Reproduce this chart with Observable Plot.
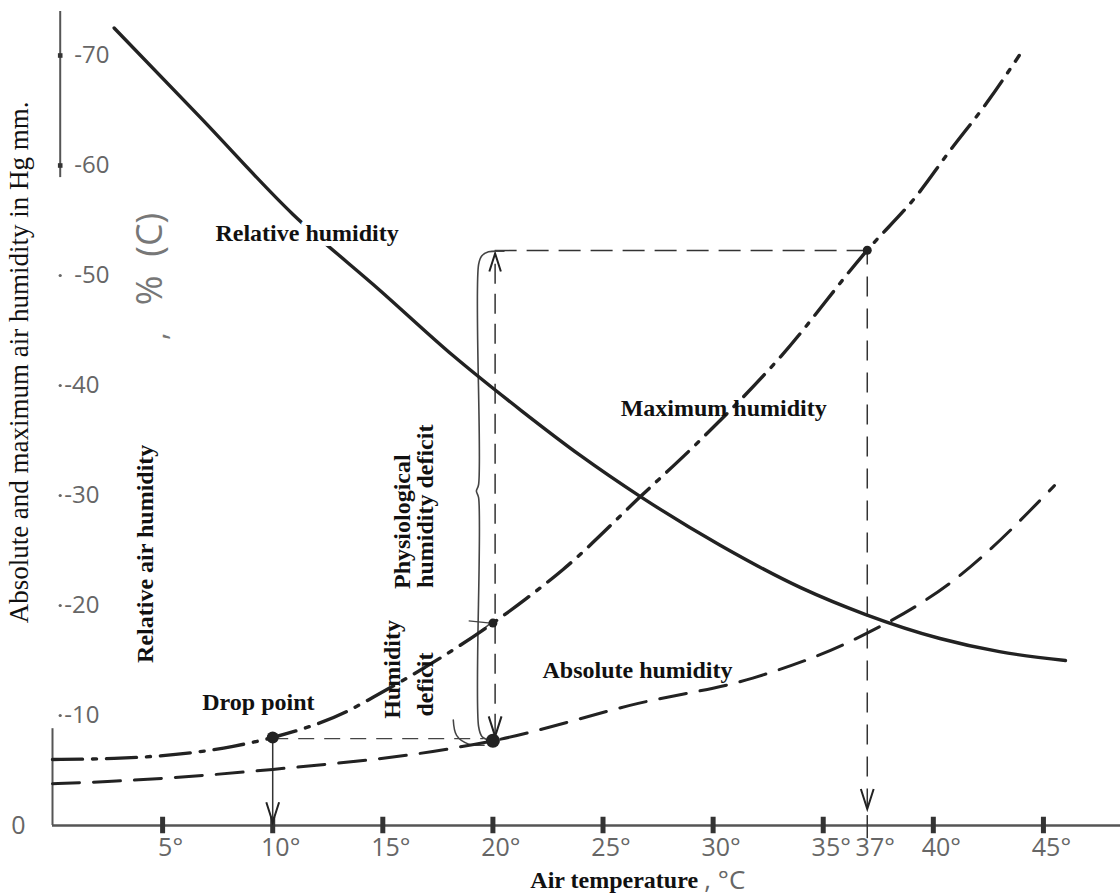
<!DOCTYPE html>
<html><head><meta charset="utf-8">
<script src="https://cdn.jsdelivr.net/npm/d3@7"></script>
<script src="https://cdn.jsdelivr.net/npm/@observablehq/plot@0.6"></script>
<style>html,body{margin:0;padding:0;background:#fff;} svg{display:block;}</style>
</head><body><div id="chart"></div>
<script>
// Relative humidity (solid curve)
const rhTemp  = [2.8, 6.7, 10.9, 14.9, 18.2, 21.3, 24.0, 26.7, 30.3, 34.0, 36.9, 40.3, 43.0, 46.0];
const rhValue = [72.5, 64.4, 55.6, 48.6, 42.7, 37.7, 33.6, 29.9, 25.5, 21.6, 19.2, 17.0, 15.8, 15.0];
// Maximum humidity (dash-dot curve)
const maxTemp  = [0, 2.8, 8.2, 10, 13.4, 14.6, 20, 21.5, 23.2, 26.7, 29.4, 33.1, 37, 39.3, 40.7, 42.5, 43.9];
const maxValue = [6.0, 6.1, 7.2, 8.0, 10.4, 11.7, 18.4, 20.6, 23.3, 29.9, 35.0, 42.7, 52.3, 57.4, 61.2, 65.9, 70.0];
// Absolute humidity (dashed curve)
const absTemp  = [0, 2.5, 10, 18.1, 20, 26.6, 31.8, 36.4, 41.0, 45.5];
const absValue = [3.8, 4.0, 5.1, 7.0, 7.7, 11.1, 13.4, 16.9, 22.4, 30.9];
// Marked points
const pointTemp  = [10, 20, 20, 37];
const pointValue = [8.0, 7.7, 18.4, 52.3];
const pointSize  = [6, 7, 4.5, 4.5];
// Ticks
const xTicks = [5, 10, 15, 20, 25, 30, 35, 37, 40, 45];
const xTickLabels = ["5°", "10°", "15°", "20°", "25°", "30°", "35°", "37°", "40°", "45°"];
const yTicks = [10, 20, 30, 40, 50, 60, 70];
const yTickLabels = ["-10", "-20", "-30", "-40", "-50", "-60", "-70"];

const toRows = (ts, vs) => ts.map((t, i) => ({t, v: vs[i]}));
const rh = toRows(rhTemp, rhValue);
const mx = toRows(maxTemp, maxValue);
const ab = toRows(absTemp, absValue);
const pts = pointTemp.map((t, i) => ({t, v: pointValue[i], r: pointSize[i]}));

// arrowhead symbols (tip at the anchor point)
const chevronDown = {draw(ctx, size) { const r = Math.sqrt(size / Math.PI); ctx.moveTo(-0.32 * r, -r); ctx.lineTo(0, 0); ctx.lineTo(0.32 * r, -r); }};
const chevronUp = {draw(ctx, size) { const r = Math.sqrt(size / Math.PI); ctx.moveTo(-0.32 * r, r); ctx.lineTo(0, 0); ctx.lineTo(0.32 * r, r); }};

const serifB = {fontFamily: "Liberation Serif", fontWeight: "bold", fontSize: 24, fill: "#111"};
const hand = {fontFamily: "Open Sans", fontSize: 24, fill: "#555"};

const chart = Plot.plot({
  width: 1120, height: 895,
  marginLeft: 52, marginRight: 0, marginTop: 0, marginBottom: 70,
  x: {domain: [0, 48.5], axis: null},
  y: {domain: [0, 75], axis: null},
  r: {type: "identity"},
  style: {background: "white", overflow: "visible"},
  marks: [
    // axes
    Plot.ruleY([0], {x1: 0, x2: 48.5, stroke: "#555", strokeWidth: 2.5}),
    Plot.ruleX([0.35], {y1: 58.9, y2: 74.0, stroke: "#555", strokeWidth: 2}),
    Plot.ruleX([0], {y1: 0, y2: 8.8, stroke: "#555", strokeWidth: 2}),
    Plot.ruleX(xTicks, {filter: d => d !== 37, y1: -0.75, y2: 0.75, stroke: "#333", strokeWidth: 5}),
    Plot.ruleX(xTicks, {filter: d => d === 37, y1: -1.2, y2: 0.9, stroke: "#333", strokeWidth: 1.5}),
    Plot.text(xTicks, {x: d => d, y: 0, text: (d, i) => xTickLabels[i], dy: 22, dx: 8, ...hand, fontSize: 25, fill: "#666"}),
    Plot.text(["0"], {x: -1.55, y: 0, text: d => d, ...hand, fontSize: 25, fill: "#666"}),
    Plot.dot(yTicks, {filter: d => d >= 60, x: 0.35, y: d => d, symbol: "square", r: 2.6, fill: "#333"}),
    Plot.dot(yTicks, {filter: d => d < 60, x: 0.35, y: d => d, r: 1.6, fill: "#666"}),
    Plot.text(yTicks, {filter: d => d >= 50, x: 0.35, y: d => d, text: (d, i) => yTickLabels[i], textAnchor: "start", dx: 14, ...hand, fill: "#666"}),
    Plot.text(yTicks, {filter: d => d < 50, x: 0.35, y: d => d, text: (d, i) => yTickLabels[i], textAnchor: "start", dx: 4, ...hand, fill: "#666"}),

    // guide lines
    Plot.ruleX([20.1], {y1: 8.3, y2: 52.0, stroke: "#333", strokeWidth: 1.5, strokeDasharray: "20,10"}),
    Plot.ruleY([52.27], {x1: 20.1, x2: 37, stroke: "#333", strokeWidth: 1.5, strokeDasharray: "22,10"}),
    Plot.ruleX([37], {y1: 1.5, y2: 52.27, stroke: "#333", strokeWidth: 1.5, strokeDasharray: "20,12"}),
    Plot.ruleY([7.9], {x1: 10, x2: 19.6, stroke: "#444", strokeWidth: 1.3, strokeDasharray: "16,10"}),
    Plot.ruleX([10], {y1: 0.3, y2: 8.0, stroke: "#333", strokeWidth: 1.5}),
    // arrowheads
    Plot.dot([{t: 37, v: 1.5}, {t: 10, v: 0.3}, {t: 20.1, v: 8.1}], {x: "t", y: "v", symbol: chevronDown, r: 20, stroke: "#222", strokeWidth: 2, fill: "none"}),
    Plot.dot([{t: 20.1, v: 52.0}], {x: "t", y: "v", symbol: chevronUp, r: 18, stroke: "#222", strokeWidth: 2, fill: "none"}),
    // bracket (humidity deficit span)
    Plot.line([{t: 20.5, v: 52.2}, {t: 19.8, v: 52.15}, {t: 19.5, v: 51.8}, {t: 19.35, v: 51.0}, {t: 19.35, v: 31.0}, {t: 19.25, v: 30.4}, {t: 19.35, v: 29.8}, {t: 19.35, v: 9.0}, {t: 19.5, v: 8.1}, {t: 19.9, v: 7.7}],
      {x: "t", y: "v", stroke: "#444", strokeWidth: 1.6, curve: "catmull-rom"}),
    Plot.line([{t: 18.2, v: 9.6}, {t: 18.35, v: 8.2}, {t: 18.9, v: 7.4}, {t: 19.6, v: 7.3}],
      {x: "t", y: "v", stroke: "#444", strokeWidth: 1.5, curve: "catmull-rom"}),
    Plot.link([{a: 18.9, b: 18.6, c: 19.9, d: 18.4}, {a: 18.9, b: 16.8, c: 19.9, d: 18.4}],
      {x1: "a", y1: "b", x2: "c", y2: "d", stroke: "#444", strokeWidth: 1.4}),

    // curves
    Plot.line(ab, {x: "t", y: "v", stroke: "#222", strokeWidth: 3, strokeDasharray: "27,14", curve: "monotone-x"}),
    Plot.line(mx, {x: "t", y: "v", stroke: "#222", strokeWidth: 3.4, strokeDasharray: "30,10,4,10", curve: "monotone-x"}),
    Plot.line(rh, {x: "t", y: "v", stroke: "#222", strokeWidth: 3.4, curve: "monotone-x"}),
    Plot.dot(pts, {x: "t", y: "v", r: "r", fill: "#222"}),

    // annotations
    Plot.text(["Relative humidity"], {x: 7.4, y: 53.8, text: d => d, textAnchor: "start", stroke: "white", strokeWidth: 10, ...serifB}),
    Plot.text(["Maximum humidity"], {x: 25.8, y: 37.9, text: d => d, textAnchor: "start", ...serifB}),
    Plot.text(["Absolute humidity"], {x: 22.25, y: 14.1, text: d => d, textAnchor: "start", ...serifB}),
    Plot.text(["Drop point"], {x: 6.8, y: 11.2, text: d => d, textAnchor: "start", ...serifB}),
    Plot.text(["Relative air humidity"], {x: 4.22, y: 24.7, text: d => d, rotate: -90, ...serifB}),
    Plot.text(["Physiological"], {x: 15.9, y: 21.5, text: d => d, rotate: -90, textAnchor: "start", ...serifB}),
    Plot.text(["humidity deficit"], {x: 16.94, y: 21.6, text: d => d, rotate: -90, textAnchor: "start", ...serifB}),
    Plot.text(["Humidity"], {x: 15.44, y: 9.7, text: d => d, rotate: -90, textAnchor: "start", ...serifB}),
    Plot.text(["deficit"], {x: 16.94, y: 9.9, text: d => d, rotate: -90, textAnchor: "start", ...serifB}),
    Plot.text(["%  (C)"], {x: 4.45, y: 51.5, text: d => d, rotate: -90, ...hand, fontSize: 36, fill: "#777"}),
    Plot.text([","], {x: 4.7, y: 44.5, text: d => d, rotate: -90, ...hand, fontSize: 30, fill: "#777"}),
    Plot.text(["Absolute and maximum air humidity in Hg mm."], {x: -1.5, y: 42.1, text: d => d, rotate: -90,
      fontFamily: "Liberation Serif", fontSize: 27, fill: "#111"}),
    Plot.text(["Air temperature"], {x: 21.7, y: -5.0, text: d => d, textAnchor: "start", ...serifB}),
    Plot.text([", °C"], {x: 29.6, y: -5.0, text: d => d, textAnchor: "start", ...hand, fontSize: 26, fill: "#666"})
  ]
});
document.getElementById("chart").append(chart);
</script>
</body></html>
